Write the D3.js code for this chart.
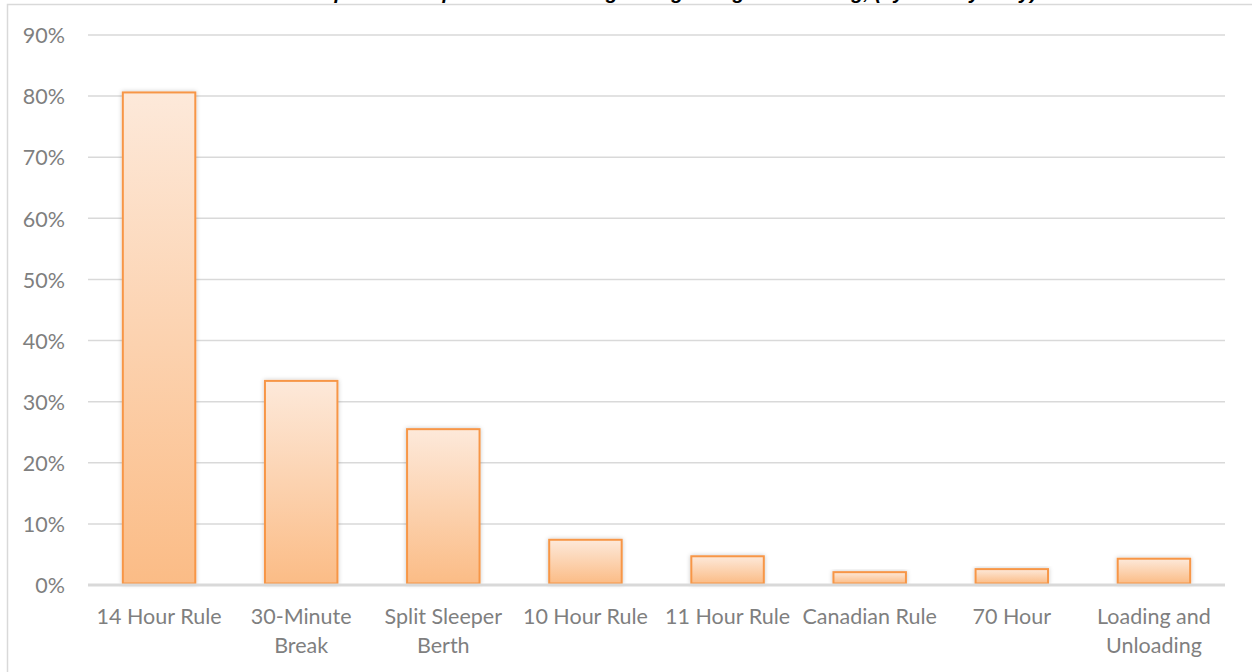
<!DOCTYPE html>
<html>
<head>
<meta charset="utf-8">
<script src="https://cdn.jsdelivr.net/npm/d3@7"></script>
<style>
  html, body { margin: 0; padding: 0; background: #fff; overflow: hidden; }
  svg { display: block; }
</style>
</head>
<body>
<svg id="chart" width="1252" height="672"></svg>
<script>
// Hours-of-service rule changes ranked by share of respondents
const categories = [
  ["14 Hour Rule"],
  ["30-Minute", "Break"],
  ["Split Sleeper", "Berth"],
  ["10 Hour Rule"],
  ["11 Hour Rule"],
  ["Canadian Rule"],
  ["70 Hour"],
  ["Loading and", "Unloading"]
];
const values = [80.6, 33.4, 25.5, 7.4, 4.7, 2.1, 2.6, 4.3];
const yTicks = [0, 10, 20, 30, 40, 50, 60, 70, 80, 90];
const titleText = "Most Important Proposed HOS Changes Regarding Rulemaking, (by Priority Only)";

const svg = d3.select("#chart");
const W = 1252, H = 672;
const plot = { left: 88, right: 1225, top: 35, bottom: 585 };

const defs = svg.append("defs");
const grad = defs.append("linearGradient")
  .attr("id", "barFill").attr("x1", 0).attr("y1", 0).attr("x2", 0).attr("y2", 1);
grad.append("stop").attr("offset", "0%").attr("stop-color", "#fde9da");
grad.append("stop").attr("offset", "100%").attr("stop-color", "#fbbc86");

const shadow = defs.append("filter").attr("id", "barShadow")
  .attr("x", "-20%").attr("y", "-20%").attr("width", "140%").attr("height", "140%");
shadow.append("feDropShadow").attr("dx", 0).attr("dy", 0).attr("stdDeviation", 2)
  .attr("flood-color", "#000").attr("flood-opacity", 0.22);

// chart frame
svg.append("rect")
  .attr("x", 7.5).attr("y", 4.5).attr("width", W).attr("height", H)
  .attr("fill", "none").attr("stroke", "#d9d9d9").attr("stroke-width", 1.5);

// title, sitting above the frame
svg.append("text")
  .attr("x", 648).attr("y", -1)
  .attr("text-anchor", "middle")
  .attr("font-family", "'Liberation Sans', Arial, sans-serif")
  .attr("font-weight", "bold").attr("font-style", "italic")
  .attr("font-size", 20).attr("fill", "#000")
  .text(titleText);

const x = d3.scaleBand()
  .domain(d3.range(categories.length))
  .range([plot.left, plot.right])
  .paddingInner(0.49).paddingOuter(0.245);

const y = d3.scaleLinear().domain([0, 90]).range([plot.bottom, plot.top]);

const font = "Lato, 'Open Sans', sans-serif";
const fontSize = 21.5;

// gridlines
svg.append("g").selectAll("line")
  .data(yTicks.filter(d => d > 0))
  .join("line")
  .attr("x1", plot.left).attr("x2", plot.right)
  .attr("y1", d => y(d)).attr("y2", d => y(d))
  .attr("stroke", "#d9d9d9").attr("stroke-width", 1.5);

// y axis labels
const yAxis = d3.axisLeft(y).tickValues(yTicks).tickFormat(d => d + "%").tickSize(0).tickPadding(0);
const yg = svg.append("g").attr("transform", "translate(65,0)").call(yAxis);
yg.select(".domain").remove();
yg.selectAll("text")
  .attr("font-family", font).attr("font-size", fontSize).attr("fill", "#7f7f7f")
  .attr("dy", "0.36em");

// bars
svg.append("g").selectAll("rect")
  .data(values)
  .join("rect")
  .attr("x", (d, i) => x(i))
  .attr("width", x.bandwidth())
  .attr("y", d => y(d))
  .attr("height", d => y(0) - y(d) - 1.5)
  .attr("fill", "url(#barFill)")
  .attr("stroke", "#f79646").attr("stroke-width", 2)
  .attr("filter", "url(#barShadow)");

// baseline
svg.append("line")
  .attr("x1", plot.left).attr("x2", plot.right)
  .attr("y1", y(0)).attr("y2", y(0))
  .attr("stroke", "#d9d9d9").attr("stroke-width", 3);

// category labels
const xl = svg.append("g").selectAll("text")
  .data(categories)
  .join("text")
  .attr("x", (d, i) => x(i) + x.bandwidth() / 2)
  .attr("y", 624)
  .attr("text-anchor", "middle")
  .attr("font-family", font).attr("font-size", fontSize).attr("fill", "#7f7f7f");
xl.selectAll("tspan")
  .data(d => d)
  .join("tspan")
  .attr("x", function() { return this.parentNode.getAttribute("x"); })
  .attr("dy", (d, i) => i === 0 ? 0 : 28.5)
  .text(d => d);
</script>
</body>
</html>
